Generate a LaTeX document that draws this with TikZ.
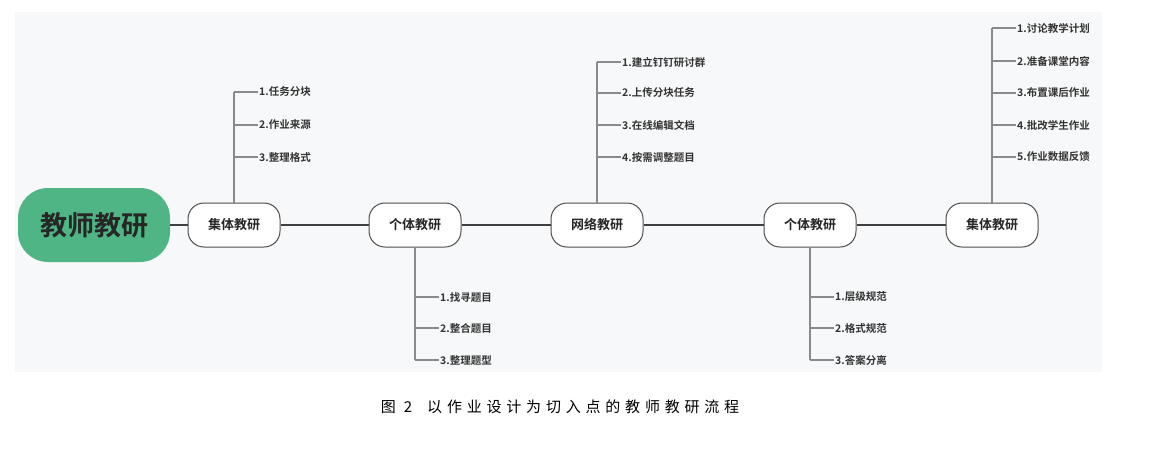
\documentclass[tikz,border=0pt]{standalone}
\usepackage{fontspec}
\setmainfont{Noto Sans CJK SC}
\newfontfamily\cjkb{Noto Sans CJK SC Bold}
\newfontfamily\capfont[LetterSpace=32]{Noto Sans CJK SC}
\definecolor{bgc}{HTML}{F7F8F9}
\definecolor{grn}{HTML}{4FB584}
\definecolor{spine}{HTML}{404040}
\definecolor{brc}{HTML}{8A8A8A}
\begin{document}
\begin{tikzpicture}[x=1pt,y=-1pt,
  lvl/.style={draw=black!70,line width=1pt,fill=white,rounded corners=16pt,minimum width=92pt,minimum height=44pt,font=\cjkb\fontsize{13}{13}\selectfont,text=black!85},
  item/.style={anchor=west,font=\cjkb\fontsize{10.5}{11}\selectfont,text=black!80,inner sep=1pt},
  sp/.style={spine,line width=2.6pt},
  br/.style={brc,line width=1.1pt}]
\useasboundingbox (0,0) rectangle (1158,461);
\fill[bgc] (15,12) rectangle (1102,372);
\node[fill=grn,rounded corners=30pt,minimum width=152pt,minimum height=74pt,font=\cjkb\fontsize{27}{27}\selectfont,text=black!85] (m) at (94,225) {教师教研};
\node[lvl] (a) at (234,225) {集体教研};
\node[lvl] (b) at (415,225) {个体教研};
\node[lvl] (c) at (597,225) {网络教研};
\node[lvl] (d) at (810,225) {个体教研};
\node[lvl] (e) at (992,225) {集体教研};
\draw[sp] (m) -- (a); \draw[sp] (a) -- (b); \draw[sp] (b) -- (c); \draw[sp] (c) -- (d); \draw[sp] (d) -- (e);
\foreach \y/\t [count=\i] in {92/1.任务分块,125/2.作业来源,157/3.整理格式}{
  \coordinate (ta\i) at (234,\y);
  \node[item] (la\i) at (258,\y) {\t};
  \draw[br] (ta\i) -- (la\i.west); \draw[br] (a) -- (ta\i);}
\foreach \y/\t [count=\i] in {62/1.建立钉钉研讨群,93/2.上传分块任务,125/3.在线编辑文档,157/4.按需调整题目}{
  \coordinate (tc\i) at (597,\y);
  \node[item] (lc\i) at (621,\y) {\t};
  \draw[br] (tc\i) -- (lc\i.west); \draw[br] (c) -- (tc\i);}
\foreach \y/\t [count=\i] in {28/1.讨论教学计划,61/2.准备课堂内容,93/3.布置课后作业,125/4.批改学生作业,157/5.作业数据反馈}{
  \coordinate (te\i) at (992,\y);
  \node[item] (le\i) at (1016,\y) {\t};
  \draw[br] (te\i) -- (le\i.west); \draw[br] (e) -- (te\i);}
\foreach \y/\t [count=\i] in {297/1.找寻题目,328/2.整合题目,360/3.整理题型}{
  \coordinate (tb\i) at (415,\y);
  \node[item] (lb\i) at (439,\y) {\t};
  \draw[br] (tb\i) -- (lb\i.west); \draw[br] (b) -- (tb\i);}
\foreach \y/\t [count=\i] in {297/1.层级规范,328/2.格式规范,360/3.答案分离}{
  \coordinate (td\i) at (810,\y);
  \node[item] (ld\i) at (834,\y) {\t};
  \draw[br] (td\i) -- (ld\i.west); \draw[br] (d) -- (td\i);}
\node[font=\capfont\fontsize{15}{15}\selectfont] (cap) at (560,407) {图 2\quad 以作业设计为切入点的教师教研流程};
\end{tikzpicture}
\end{document}
